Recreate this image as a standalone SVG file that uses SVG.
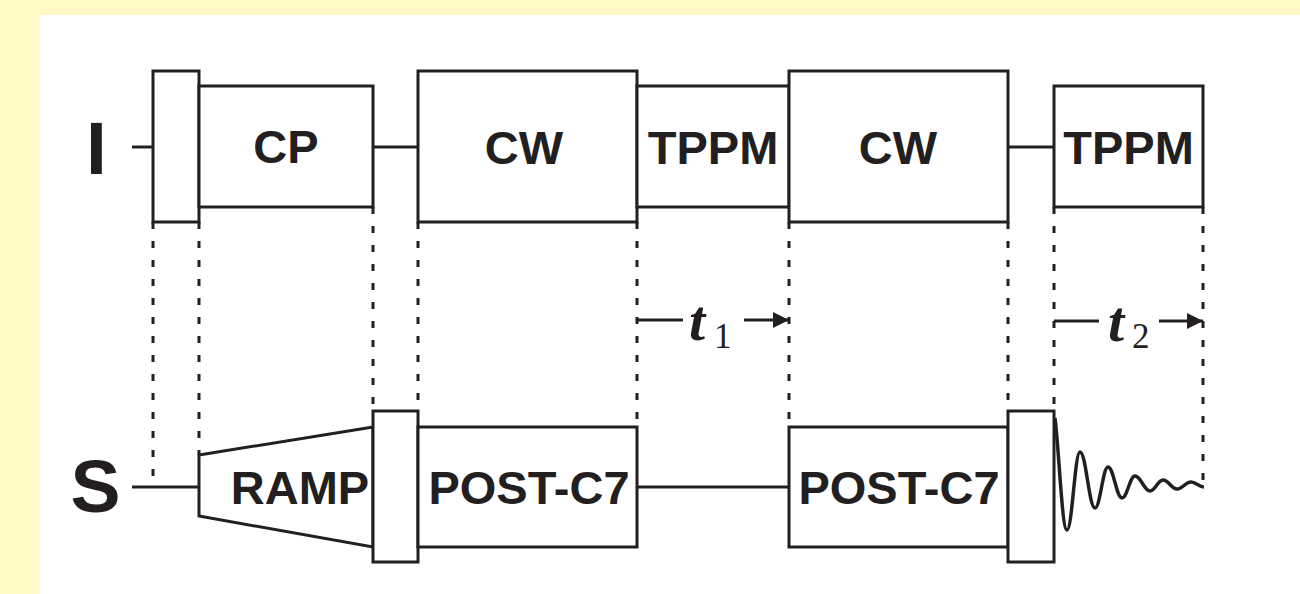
<svg xmlns="http://www.w3.org/2000/svg" width="1300" height="594" viewBox="0 0 1300 594">
<defs>
<style>
.box{fill:#fff;stroke:#231F20;stroke-width:3}
.ln{fill:none;stroke:#231F20;stroke-width:3}
.dot{fill:none;stroke:#231F20;stroke-width:3;stroke-dasharray:7 12}
.lbl{font-family:"Liberation Sans",Arial,sans-serif;font-weight:bold;font-size:47px;fill:#231F20;text-anchor:middle}
.ch{font-family:"Liberation Sans",Arial,sans-serif;font-weight:bold;font-size:75px;fill:#231F20;text-anchor:middle}
.t{font-family:"Liberation Serif","Times New Roman",serif;font-style:italic;font-weight:bold;font-size:58px;fill:#231F20}
.sub{font-family:"Liberation Serif","Times New Roman",serif;font-size:35px;fill:#231F20}
</style>
<marker id="ah" markerWidth="16" markerHeight="16" viewBox="0 0 16 16" refX="16" refY="8" orient="auto" markerUnits="userSpaceOnUse">
<path d="M0,0 L16,8 L0,16 Z" fill="#231F20"/>
</marker>
</defs>
<rect x="0" y="0" width="1300" height="594" fill="#FFF9C6"/>
<rect x="40" y="15" width="1260" height="579" fill="#fff"/>

<g id="connectors">
<line class="ln" x1="132" y1="147" x2="153" y2="147"/>
<line class="ln" x1="373" y1="147" x2="418" y2="147"/>
<line class="ln" x1="1008" y1="147" x2="1054" y2="147"/>
<line class="ln" x1="132" y1="487" x2="199" y2="487"/>
<line class="ln" x1="637" y1="487" x2="789" y2="487"/>
<line class="dot" x1="153" y1="222" x2="153" y2="476"/>
<line class="dot" x1="199" y1="222" x2="199" y2="455"/>
<line class="dot" x1="373" y1="207" x2="373" y2="411"/>
<line class="dot" x1="418" y1="222" x2="418" y2="411"/>
<line class="dot" x1="637" y1="222" x2="637" y2="427"/>
<line class="dot" x1="789" y1="222" x2="789" y2="427"/>
<line class="dot" x1="1008" y1="222" x2="1008" y2="411"/>
<line class="dot" x1="1054" y1="207" x2="1054" y2="411"/>
<line class="dot" x1="1203" y1="207" x2="1203" y2="482"/>
<line class="ln" x1="637" y1="320" x2="683" y2="320"/>
<line class="ln" x1="744" y1="320" x2="789" y2="320" marker-end="url(#ah)"/>
<line class="ln" x1="1054" y1="321" x2="1099" y2="321"/>
<line class="ln" x1="1159" y1="321" x2="1203" y2="321" marker-end="url(#ah)"/>
</g>

<g id="label-I"><text class="ch" x="96.5" y="174">I</text></g>
<g id="label-S"><text class="ch" x="95.5" y="512">S</text></g>

<g id="I-pulse90"><rect class="box" x="153" y="71" width="46" height="151"/></g>
<g id="I-CP"><rect class="box" x="199" y="86" width="174" height="121"/><text class="lbl" x="286" y="163">CP</text></g>
<g id="I-CW1"><rect class="box" x="418" y="71" width="219" height="151"/><text class="lbl" x="524" y="164">CW</text></g>
<g id="I-TPPM1"><rect class="box" x="637" y="86" width="152" height="121"/><text class="lbl" x="713" y="164">TPPM</text></g>
<g id="I-CW2"><rect class="box" x="789" y="71" width="219" height="151"/><text class="lbl" x="898" y="164">CW</text></g>
<g id="I-TPPM2"><rect class="box" x="1054" y="86" width="149" height="121"/><text class="lbl" x="1128.5" y="164">TPPM</text></g>

<g id="S-RAMP"><path class="box" d="M199,455 L373,427 L373,547 L199,516 Z"/><text class="lbl" x="300" y="504">RAMP</text></g>
<g id="S-pulse1"><rect class="box" x="373" y="411" width="45" height="151"/></g>
<g id="S-POSTC7-1"><rect class="box" x="418" y="427" width="219" height="120"/><text class="lbl" x="529" y="504">POST-C7</text></g>
<g id="S-POSTC7-2"><rect class="box" x="789" y="427" width="219" height="120"/><text class="lbl" x="899" y="504">POST-C7</text></g>
<g id="S-pulse2"><rect class="box" x="1008" y="411" width="46" height="151"/></g>
<g id="S-FID"><path fill="none" stroke="#231F20" stroke-width="3.5" d="M1055,418 C1059,450 1062,530 1067,530 C1072.2,530 1074.8,452 1080,452 C1086,452 1089,508 1095,508 C1100.2,508 1102.8,467 1108,467 C1113.6,467 1116.4,498 1122,498 C1127.2,498 1129.8,476 1135,476 C1141,476 1144,491 1150,491 C1155.2,491 1157.8,480 1163,480 C1168.6,480 1171.4,489 1177,489 C1182.6,489 1185.4,482 1191,482 C1196,482 1199,487 1204,487"/></g>

<g id="t1"><text class="t" x="689" y="340">t</text><text class="sub" x="714" y="348">1</text></g>
<g id="t2"><text class="t" x="1108" y="341">t</text><text class="sub" x="1132" y="348">2</text></g>
</svg>
